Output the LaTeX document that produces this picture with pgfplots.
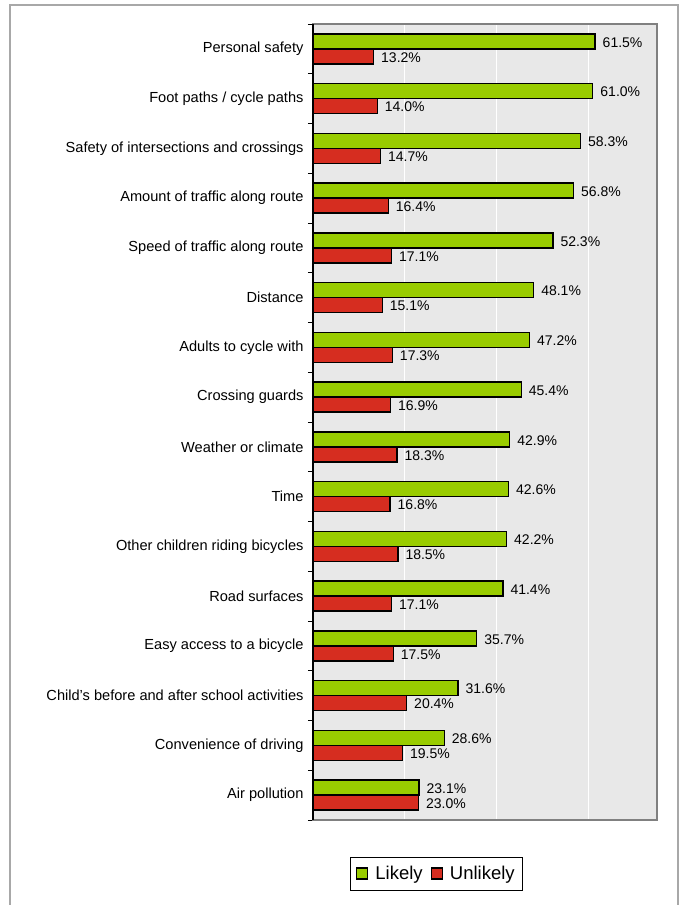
\documentclass[border=0pt]{standalone}
\usepackage{pgfplots}
\pgfplotsset{compat=1.18}
\usepackage{fontspec}
\setmainfont{Liberation Sans}
\definecolor{likely}{HTML}{99CC00}
\definecolor{unlikely}{HTML}{D62D20}
\definecolor{bg}{HTML}{E8E8E8}
\definecolor{frame}{HTML}{A8A8A8}
\definecolor{border}{HTML}{808080}
\begin{document}
\begin{tikzpicture}[x=1pt,y=1pt]
\useasboundingbox (0,0) rectangle (682,905);
\draw[frame, line width=1.2pt] (10,-2) -- (10,900) -- (678,900) -- (678,-2);
\begin{axis}[
  at={(313pt,85pt)}, anchor=south west, scale only axis,
  width=344pt, height=796pt,
  xbar, bar width=15pt,
  xmin=0, xmax=75, ymin=-0.5, ymax=15.5, y dir=reverse,
  axis background/.style={fill=bg},
  axis line style={border, line width=1.3pt},
  xtick={0,20,40,60}, xticklabels={}, xmajorgrids,
  major grid style={white, line width=1pt},
  ytick={0,...,15},
  yticklabels={Personal safety, Foot paths / cycle paths, Safety of intersections and crossings, Amount of traffic along route, Speed of traffic along route, Distance, Adults to cycle with, Crossing guards, Weather or climate, Time, Other children riding bicycles, Road surfaces, Easy access to a bicycle, Child's before and after school activities, Convenience of driving, Air pollution},
  minor ytick={-0.5,0.5,...,15.5},
  major tick length=0pt, minor tick length=5pt, tick align=outside,
  tick style={black, line width=0.8pt},
  ytick pos=left, xtick pos=bottom,
  yticklabel style={font=\fontsize{14.6}{16}\selectfont, xshift=-6pt},
  clip=false,
  /pgf/number format/assume math mode=true,
  nodes near coords={\pgfmathprintnumber[fixed,fixed zerofill,precision=1]{\pgfplotspointmeta}\%},
  nodes near coords style={font=\fontsize{14}{15}\selectfont, anchor=west, inner sep=0pt, xshift=7pt, yshift=-1pt, text=black},
  legend style={at={(0.359,-0.0672)}, anchor=center, legend columns=2, draw=black, line width=0.8pt,
    font=\fontsize{18.5}{20}\selectfont, inner xsep=6pt, inner ysep=7pt,
    /tikz/every odd column/.append style={column sep=5pt},
    /tikz/every even column/.append style={column sep=6pt}},
  legend image code/.code={\draw[#1, line width=1.2pt] (0pt,-5.5pt) rectangle (11pt,5.5pt);},
]
\addplot[fill=likely, draw=black, line width=1.3pt, bar shift=7.5pt] coordinates {
(61.5,0) (61.0,1) (58.3,2) (56.8,3) (52.3,4) (48.1,5) (47.2,6) (45.4,7)
(42.9,8) (42.6,9) (42.2,10) (41.4,11) (35.7,12) (31.6,13) (28.6,14) (23.1,15)};
\addlegendentry{Likely}
\addplot[fill=unlikely, draw=black, line width=1.3pt, bar shift=-7.5pt] coordinates {
(13.2,0) (14.0,1) (14.7,2) (16.4,3) (17.1,4) (15.1,5) (17.3,6) (16.9,7)
(18.3,8) (16.8,9) (18.5,10) (17.1,11) (17.5,12) (20.4,13) (19.5,14) (23.0,15)};
\addlegendentry{Unlikely}
\draw[black, line width=1pt] (rel axis cs:0,0) -- (rel axis cs:0,1);
\end{axis}
\end{tikzpicture}
\end{document}
